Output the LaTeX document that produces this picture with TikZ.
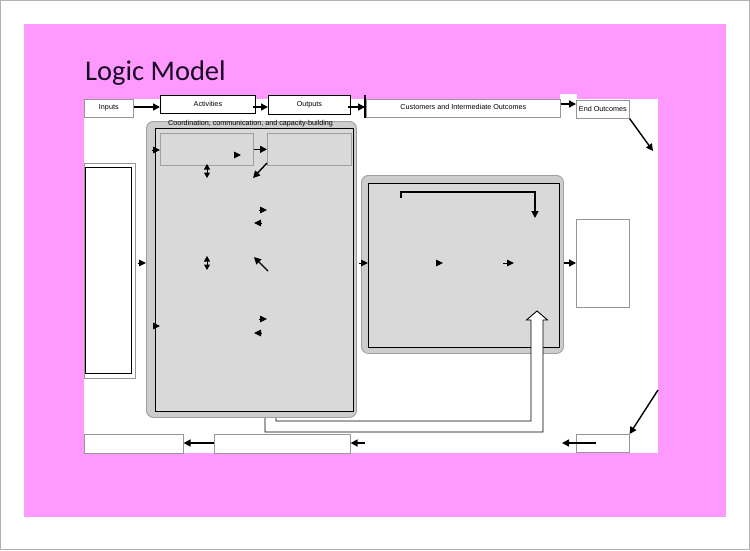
\documentclass[tikz,border=0pt]{standalone}
\usepackage{fontspec}
\setmainfont{Liberation Sans}
\newfontfamily\titlefont{Carlito}
\usetikzlibrary{arrows.meta}
\definecolor{pinkbg}{RGB}{255,153,255}
\definecolor{panelfill}{RGB}{217,217,217}
\definecolor{rimfill}{RGB}{205,205,205}
\definecolor{rimline}{RGB}{160,160,160}
\definecolor{boxline}{RGB}{150,150,150}
\definecolor{titlecol}{RGB}{25,10,35}
\begin{document}
\begin{tikzpicture}[x=1pt,y=-1pt,
  box/.style={draw=boxline, line width=0.6pt, fill=white, inner sep=0pt, anchor=north west, font=\fontsize{7.2}{8}\selectfont},
  darkbox/.style={box, draw=black, line width=0.8pt},
  rim/.style={draw=rimline, fill=rimfill, line width=0.9pt, rounded corners=7pt, anchor=north west, inner sep=0pt},
  panel/.style={draw=black, fill=panelfill, line width=0.9pt, anchor=north west, inner sep=0pt},
  subbox/.style={draw=rimline, fill=panelfill, line width=0.7pt, anchor=north west, inner sep=0pt},
  arr/.style={line width=1.4pt, -{Triangle[length=7pt,width=7pt]}},
  tip/.style={line width=1pt, -{Triangle[length=7pt,width=6.5pt]}},
  dtip/.style={line width=1pt, {Triangle[length=5.5pt,width=6pt]}-{Triangle[length=5.5pt,width=6pt]}},
  lbl/.style={font=\fontsize{7.2}{8}\selectfont, inner sep=0pt}
]
\useasboundingbox (0,0) rectangle (750,550);
\draw[draw=black!30, fill=white, line width=0.8pt] (0.5,0.5) rectangle (749.5,549.5);
\fill[pinkbg] (24,24) rectangle (726,517);
\fill[white] (84,99) rectangle (658,453);
\fill[white] (560,94) rectangle (577,100);
\node[anchor=base west, inner sep=0pt, text=titlecol, font=\titlefont\fontsize{28.5}{32}\selectfont] (title) at (85,80) {Logic Model};

% reference rows
\coordinate (r1) at (0,107);
\coordinate (r2) at (0,104);
\coordinate (r3) at (0,443);
\coordinate (r4) at (0,263);

% top row
\node[box, minimum width=49pt, minimum height=18pt] (inputs) at (84,99) {\raisebox{3pt}{Inputs}};
\node[darkbox, minimum width=95pt, minimum height=18pt] (activities) at (160,95) {Activities};
\node[darkbox, minimum width=82pt, minimum height=19pt] (outputs) at (268,95) {Outputs};
\node[box, minimum width=194pt, minimum height=18pt] (customers) at (366,99) {\raisebox{3pt}{Customers and Intermediate Outcomes}};
\draw[line width=1.2pt] (customers.north west) ++(-1,-4) coordinate (cl1) -- (customers.south west -| cl1);
\node[box, minimum width=53pt, minimum height=18pt] (endout) at (576,100) {End Outcomes};

% left input box
\node[box, minimum width=51pt, minimum height=215pt] (inbox) at (84,163) {};
\node[box, draw=black, line width=0.9pt, minimum width=46pt, minimum height=206pt] (inboxin) at (85,167) {};

% right panel
\node[rim, minimum width=202pt, minimum height=178pt] (rrim) at (361,175) {};
\node[panel, minimum width=191pt, minimum height=164pt] (rpanel) at (368,183) {};
\node[box, minimum width=53pt, minimum height=88pt] (rwbox) at (576,219) {};

% hollow U arrow
\filldraw[fill=white, draw=black, line width=0.9pt, line join=miter]
  (265,417) -- (265,432) -- (543,432) -- (543,320) -- (547.5,320) -- (537,311)
  -- (526.5,320) -- (531,320) -- (531,421) -- (276,421) -- (276,417);

% left panel
\node[rim, minimum width=210pt, minimum height=296pt] (lrim) at (146,121) {};
\node[panel, minimum width=198pt, minimum height=283pt] (lpanel) at (155,128) {};
\node[lbl] (coord) at (250.5,124) {Coordination, communication, and capacity-building};
\node[subbox, minimum width=93pt, minimum height=32pt] (actsub) at (160,133) {};
\node[subbox, minimum width=84pt, minimum height=32pt] (outsub) at (267,133) {};

% top row connectors
\draw[arr] (inputs.east |- r1) -- (activities.west |- r1);
\draw[arr] ([xshift=-3pt]activities.east |- r1) -- (outputs.west |- r1);
\draw[arr] ([xshift=-3pt]outputs.east |- r1) -- (cl1 |- r1);
\draw[arr] (customers.east |- r2) -- (endout.west |- r2);
\coordinate (eo) at (653,151);
\draw[arr] (endout.south east) -- (eo);

% left panel arrows
\coordinate (a1s) at (152,150); \coordinate (a1e) at (160,150);
\draw[tip] (a1s) -- (a1e);
\coordinate (a2s) at (234,155); \coordinate (a2e) at (241,155);
\draw[tip] (a2s) -- (a2e);
\draw[arr] (actsub.east) -- (outsub.west);
\coordinate (d1s) at (207,164); \coordinate (d1e) at (207,178);
\draw[dtip] (d1s) -- (d1e);
\coordinate (g1s) at (267,163); \coordinate (g1e) at (253,178);
\draw[arr] (g1s) -- (g1e);
\coordinate (a3s) at (259,210); \coordinate (a3e) at (267,210);
\draw[tip] (a3s) -- (a3e);
\coordinate (a4s) at (262,223); \coordinate (a4e) at (254,223);
\draw[tip] (a4s) -- (a4e);
\coordinate (d2s) at (207,256); \coordinate (d2e) at (207,270);
\draw[dtip] (d2s) -- (d2e);
\coordinate (g2s) at (268,271); \coordinate (g2e) at (254,257);
\draw[arr] (g2s) -- (g2e);
\coordinate (a5s) at (153,326); \coordinate (a5e) at (160,326);
\draw[tip] (a5s) -- (a5e);
\coordinate (a6s) at (259,319); \coordinate (a6e) at (267,319);
\draw[tip] (a6s) -- (a6e);
\coordinate (a7s) at (262,333); \coordinate (a7e) at (254,333);
\draw[tip] (a7s) -- (a7e);

% between boxes at mid height
\draw[tip] ([xshift=2pt]inbox.east |- r4) -- (lrim.west |- r4);
\draw[tip] ([xshift=-2pt]rrim.west |- r4) -- (rpanel.west |- r4);
\coordinate (a8s) at (436,263); \coordinate (a8e) at (443,263);
\draw[tip] (a8s) -- (a8e);
\coordinate (a9s) at (503,263); \coordinate (a9e) at (514,263);
\draw[tip] (a9s) -- (a9e);
\draw[arr] (rrim.east |- r4) -- (rwbox.west |- r4);

% bracket arrow in right panel
\coordinate (b0) at (401,198); \coordinate (b1) at (535,218);
\draw[line width=1.5pt, -{Triangle[length=7pt,width=7pt]}] (b0) -- (b0 |- 0,192) -- (b1 |- 0,192) -- (b1);

% bottom row
\node[box, minimum width=99pt, minimum height=19pt] (bl) at (84,434) {};
\node[box, minimum width=136pt, minimum height=19pt] (bm) at (214,434) {};
\node[box, minimum width=53pt, minimum height=18pt] (br) at (576,434) {};
\coordinate (bs1) at (596,443); \coordinate (be1) at (562,443);
\draw[arr] (bs1) -- (be1);
\coordinate (bs2) at (365,443);
\draw[arr] (bs2) -- (bm.east |- r3);
\draw[arr] (bm.west |- r3) -- (bl.east |- r3);
\coordinate (bs3) at (658,390);
\draw[arr] (bs3) -- (br.north east);
\end{tikzpicture}
\end{document}
